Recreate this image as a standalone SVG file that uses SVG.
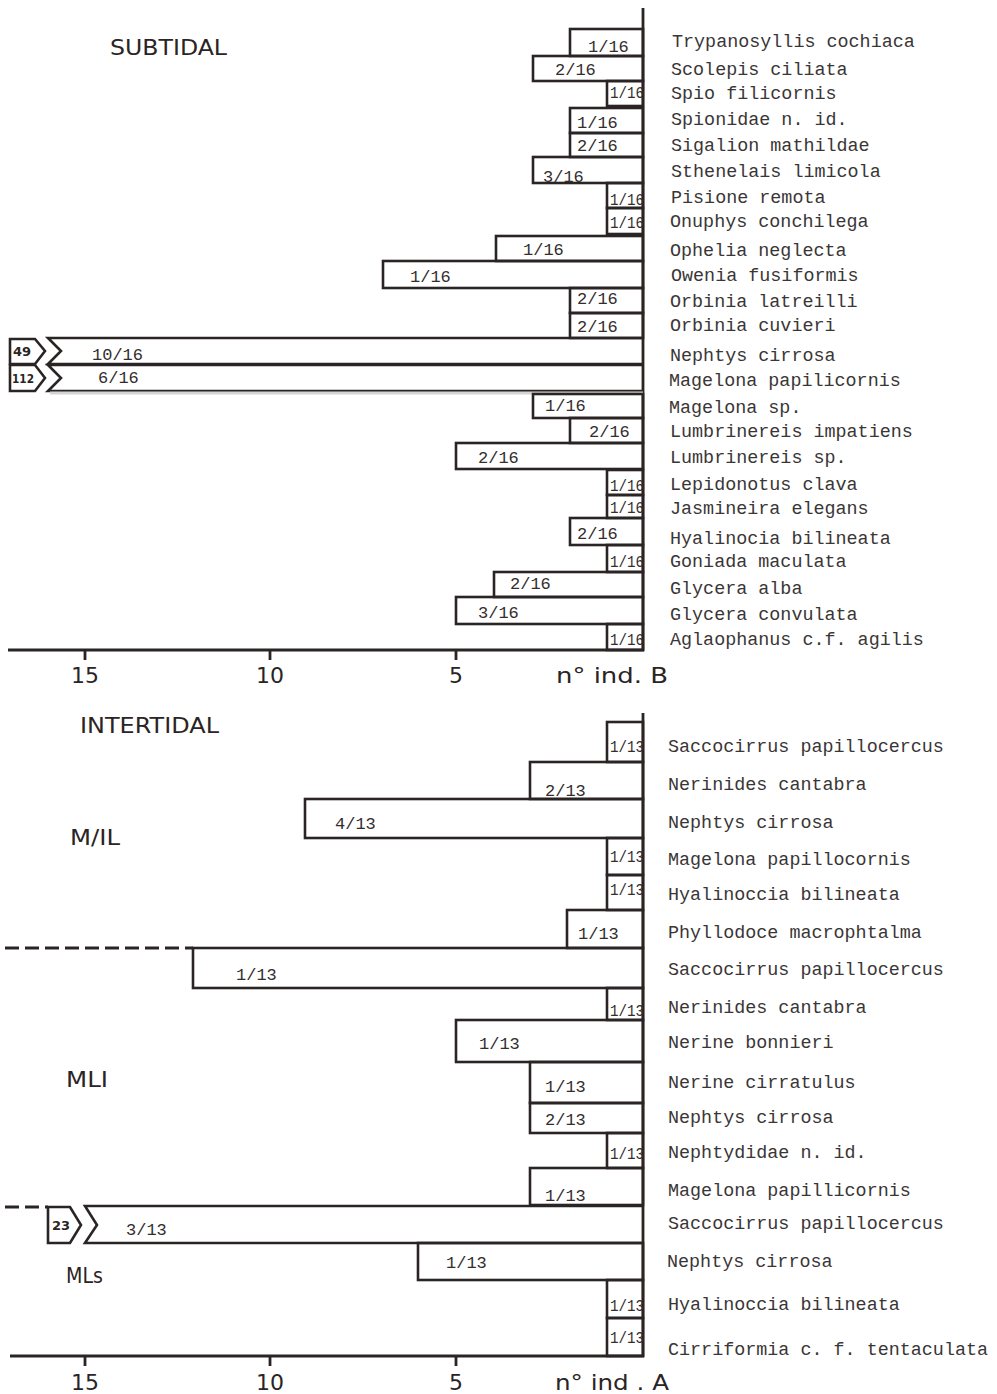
<svg xmlns="http://www.w3.org/2000/svg" width="997" height="1394" viewBox="0 0 997 1394">
<style>
.bar{fill:none;stroke:#2b2424;stroke-width:2.6;stroke-linejoin:miter}
.ax{fill:none;stroke:#2b2424;stroke-width:2.8}
.dash{fill:none;stroke:#2b2424;stroke-width:3;stroke-dasharray:14,6}
.sp{font-family:"Liberation Mono","DejaVu Sans Mono",monospace;font-size:18.4px;fill:#3a3636}
.v{font-family:"Liberation Mono","DejaVu Sans Mono",monospace;font-size:17px;fill:#332d2d}
.vs{font-family:"Liberation Mono","DejaVu Sans Mono",monospace;font-size:16px;fill:#332d2d}
.cat{font-family:"DejaVu Sans","Liberation Sans",sans-serif;font-size:22px;fill:#2b2424}
.num{font-family:"DejaVu Sans","Liberation Sans",sans-serif;font-size:22px;fill:#2b2424;text-anchor:middle}
.box{font-family:"DejaVu Sans","Liberation Sans",sans-serif;font-size:13px;font-weight:bold;fill:#2b2424}
</style>
<rect width="997" height="1394" fill="#ffffff"/>

<g id="titles">
<text class="cat" x="110" y="55" textLength="117" lengthAdjust="spacingAndGlyphs">SUBTIDAL</text>
<text class="cat" x="80" y="733" textLength="139" lengthAdjust="spacingAndGlyphs">INTERTIDAL</text>
<text class="cat" x="70" y="845" textLength="50" lengthAdjust="spacingAndGlyphs">M/IL</text>
<text class="cat" x="66" y="1087" textLength="42" lengthAdjust="spacingAndGlyphs">MLI</text>
<text class="cat" x="66" y="1283" textLength="37" lengthAdjust="spacingAndGlyphs">MLs</text>
</g>

<g id="axes">
<line class="ax" x1="643" y1="8" x2="643" y2="651"/>
<line class="ax" x1="8" y1="650" x2="644" y2="650"/>
<line class="ax" x1="85" y1="650" x2="85" y2="660"/>
<line class="ax" x1="270" y1="650" x2="270" y2="660"/>
<line class="ax" x1="456" y1="650" x2="456" y2="660"/>
<text class="num" x="85" y="683">15</text>
<text class="num" x="270" y="683">10</text>
<text class="num" x="456" y="683">5</text>
<text class="cat" x="556" y="683" textLength="112" lengthAdjust="spacingAndGlyphs">n° ind. B</text>
<line class="ax" x1="643" y1="713" x2="643" y2="1357"/>
<line class="ax" x1="10" y1="1356" x2="644" y2="1356"/>
<line class="ax" x1="85" y1="1356" x2="85" y2="1366"/>
<line class="ax" x1="270" y1="1356" x2="270" y2="1366"/>
<line class="ax" x1="456" y1="1356" x2="456" y2="1366"/>
<text class="num" x="85" y="1390">15</text>
<text class="num" x="270" y="1390">10</text>
<text class="num" x="456" y="1390">5</text>
<text class="cat" x="555" y="1390" textLength="114" lengthAdjust="spacingAndGlyphs">n° ind . A</text>
</g>

<g id="subtidal-bars">
<rect class="bar" x="570" y="29" width="73" height="27"/>
<rect class="bar" x="533" y="56" width="110" height="25"/>
<rect class="bar" x="607" y="81" width="36" height="25"/>
<rect class="bar" x="570" y="108" width="73" height="25"/>
<rect class="bar" x="570" y="133" width="73" height="24"/>
<rect class="bar" x="533" y="157" width="110" height="26"/>
<rect class="bar" x="607" y="183" width="36" height="25"/>
<rect class="bar" x="607" y="208" width="36" height="26"/>
<rect class="bar" x="496" y="236" width="147" height="25"/>
<rect class="bar" x="383" y="261" width="260" height="27"/>
<rect class="bar" x="570" y="288" width="73" height="25"/>
<rect class="bar" x="570" y="313" width="73" height="25"/>
<path class="bar" d="M643,338 H48 L61,351 L48,364 H643"/>
<path class="bar" d="M643,365 H48 L61,378 L48,391 H643"/>
<path class="bar" d="M10,339 H35 L45,351 L35,364 H10 Z"/>
<path class="bar" d="M10,365 H35 L45,378 L35,391 H10 Z"/>
<line x1="50" y1="393" x2="643" y2="393" stroke="#d4d4d4" stroke-width="3"/>
<rect class="bar" x="533" y="394" width="110" height="24"/>
<rect class="bar" x="570" y="418" width="73" height="25"/>
<rect class="bar" x="456" y="443" width="187" height="26"/>
<rect class="bar" x="607" y="470" width="36" height="25"/>
<rect class="bar" x="607" y="495" width="36" height="23"/>
<rect class="bar" x="570" y="518" width="73" height="27"/>
<rect class="bar" x="607" y="545" width="36" height="27"/>
<rect class="bar" x="494" y="572" width="149" height="25"/>
<rect class="bar" x="456" y="597" width="187" height="27"/>
<rect class="bar" x="607" y="624" width="36" height="26"/>
</g>

<g id="subtidal-values">
<text class="v" x="588" y="52">1/16</text>
<text class="v" x="555" y="75">2/16</text>
<text class="vs" x="610" y="98" textLength="34" lengthAdjust="spacingAndGlyphs">1/16</text>
<text class="v" x="577" y="128">1/16</text>
<text class="v" x="577" y="151">2/16</text>
<text class="v" x="543" y="182">3/16</text>
<text class="vs" x="610" y="205" textLength="34" lengthAdjust="spacingAndGlyphs">1/16</text>
<text class="vs" x="610" y="228" textLength="34" lengthAdjust="spacingAndGlyphs">1/16</text>
<text class="v" x="523" y="255">1/16</text>
<text class="v" x="410" y="282">1/16</text>
<text class="v" x="577" y="304">2/16</text>
<text class="v" x="577" y="332">2/16</text>
<text class="v" x="92" y="360">10/16</text>
<text class="v" x="98" y="383">6/16</text>
<text class="box" x="13" y="356">49</text>
<text class="box" x="12" y="383" textLength="22" lengthAdjust="spacingAndGlyphs">112</text>
<text class="v" x="545" y="411">1/16</text>
<text class="v" x="589" y="437">2/16</text>
<text class="v" x="478" y="463">2/16</text>
<text class="vs" x="610" y="491" textLength="34" lengthAdjust="spacingAndGlyphs">1/16</text>
<text class="vs" x="610" y="513" textLength="34" lengthAdjust="spacingAndGlyphs">1/16</text>
<text class="v" x="577" y="539">2/16</text>
<text class="vs" x="610" y="567" textLength="34" lengthAdjust="spacingAndGlyphs">1/16</text>
<text class="v" x="510" y="589">2/16</text>
<text class="v" x="478" y="618">3/16</text>
<text class="vs" x="610" y="645" textLength="34" lengthAdjust="spacingAndGlyphs">1/16</text>
</g>

<g id="subtidal-species">
<text class="sp" x="672" y="47">Trypanosyllis cochiaca</text>
<text class="sp" x="671" y="75">Scolepis ciliata</text>
<text class="sp" x="671" y="99">Spio filicornis</text>
<text class="sp" x="671" y="125">Spionidae n. id.</text>
<text class="sp" x="671" y="151">Sigalion mathildae</text>
<text class="sp" x="671" y="177">Sthenelais limicola</text>
<text class="sp" x="671" y="203">Pisione remota</text>
<text class="sp" x="670" y="227">Onuphys conchilega</text>
<text class="sp" x="670" y="256">Ophelia neglecta</text>
<text class="sp" x="671" y="281">Owenia fusiformis</text>
<text class="sp" x="670" y="307">Orbinia latreilli</text>
<text class="sp" x="670" y="331">Orbinia cuvieri</text>
<text class="sp" x="670" y="361">Nephtys cirrosa</text>
<text class="sp" x="669" y="386">Magelona papilicornis</text>
<text class="sp" x="669" y="413">Magelona sp.</text>
<text class="sp" x="670" y="437">Lumbrinereis impatiens</text>
<text class="sp" x="670" y="463">Lumbrinereis sp.</text>
<text class="sp" x="670" y="490">Lepidonotus clava</text>
<text class="sp" x="670" y="514">Jasmineira elegans</text>
<text class="sp" x="670" y="544">Hyalinocia bilineata</text>
<text class="sp" x="670" y="567">Goniada maculata</text>
<text class="sp" x="670" y="594">Glycera alba</text>
<text class="sp" x="670" y="620">Glycera convulata</text>
<text class="sp" x="670" y="645">Aglaophanus c.f. agilis</text>
</g>

<g id="intertidal-bars">
<rect class="bar" x="607" y="722" width="36" height="40"/>
<rect class="bar" x="530" y="762" width="113" height="37"/>
<rect class="bar" x="305" y="799" width="338" height="39"/>
<rect class="bar" x="607" y="838" width="36" height="37"/>
<rect class="bar" x="607" y="875" width="36" height="35"/>
<rect class="bar" x="567" y="910" width="76" height="38"/>
<line class="dash" x1="5" y1="948" x2="193" y2="948"/>
<rect class="bar" x="193" y="948" width="450" height="40"/>
<rect class="bar" x="607" y="988" width="36" height="32"/>
<rect class="bar" x="456" y="1020" width="187" height="42"/>
<rect class="bar" x="530" y="1062" width="113" height="41"/>
<rect class="bar" x="530" y="1103" width="113" height="30"/>
<rect class="bar" x="607" y="1133" width="36" height="35"/>
<rect class="bar" x="530" y="1168" width="113" height="37"/>
<line class="dash" x1="5" y1="1207" x2="48" y2="1207"/>
<path class="bar" d="M643,1206 H85 L97,1225 L85,1243 H643"/>
<path class="bar" d="M48,1207 H70 L81,1225 L70,1243 H48 Z"/>
<rect class="bar" x="418" y="1243" width="225" height="37"/>
<rect class="bar" x="607" y="1280" width="36" height="38"/>
<rect class="bar" x="607" y="1318" width="36" height="38"/>
</g>

<g id="intertidal-values">
<text class="vs" x="610" y="752" textLength="34" lengthAdjust="spacingAndGlyphs">1/13</text>
<text class="v" x="545" y="796">2/13</text>
<text class="v" x="335" y="829">4/13</text>
<text class="vs" x="610" y="862" textLength="34" lengthAdjust="spacingAndGlyphs">1/13</text>
<text class="vs" x="610" y="895" textLength="34" lengthAdjust="spacingAndGlyphs">1/13</text>
<text class="v" x="578" y="939">1/13</text>
<text class="v" x="236" y="980">1/13</text>
<text class="vs" x="610" y="1016" textLength="34" lengthAdjust="spacingAndGlyphs">1/13</text>
<text class="v" x="479" y="1049">1/13</text>
<text class="v" x="545" y="1092">1/13</text>
<text class="v" x="545" y="1125">2/13</text>
<text class="vs" x="610" y="1159" textLength="34" lengthAdjust="spacingAndGlyphs">1/13</text>
<text class="v" x="545" y="1201">1/13</text>
<text class="v" x="126" y="1235">3/13</text>
<text class="box" x="52" y="1230">23</text>
<text class="v" x="446" y="1268">1/13</text>
<text class="vs" x="610" y="1311" textLength="34" lengthAdjust="spacingAndGlyphs">1/13</text>
<text class="vs" x="610" y="1343" textLength="34" lengthAdjust="spacingAndGlyphs">1/13</text>
</g>

<g id="intertidal-species">
<text class="sp" x="668" y="752">Saccocirrus papillocercus</text>
<text class="sp" x="668" y="790">Nerinides cantabra</text>
<text class="sp" x="668" y="828">Nephtys cirrosa</text>
<text class="sp" x="668" y="865">Magelona papillocornis</text>
<text class="sp" x="668" y="900">Hyalinoccia bilineata</text>
<text class="sp" x="668" y="938">Phyllodoce macrophtalma</text>
<text class="sp" x="668" y="975">Saccocirrus papillocercus</text>
<text class="sp" x="668" y="1013">Nerinides cantabra</text>
<text class="sp" x="668" y="1048">Nerine bonnieri</text>
<text class="sp" x="668" y="1088">Nerine cirratulus</text>
<text class="sp" x="668" y="1123">Nephtys cirrosa</text>
<text class="sp" x="668" y="1158">Nephtydidae n. id.</text>
<text class="sp" x="668" y="1196">Magelona papillicornis</text>
<text class="sp" x="668" y="1229">Saccocirrus papillocercus</text>
<text class="sp" x="667" y="1267">Nephtys cirrosa</text>
<text class="sp" x="668" y="1310">Hyalinoccia bilineata</text>
<text class="sp" x="668" y="1355">Cirriformia c. f. tentaculata</text>
</g>
</svg>
